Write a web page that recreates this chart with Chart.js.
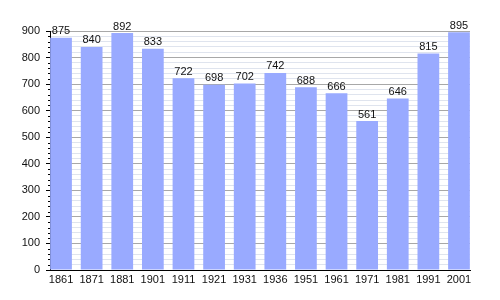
<!DOCTYPE html>
<html>
<head>
<meta charset="utf-8">
<script src="https://cdn.jsdelivr.net/npm/chart.js@4"></script>
<style>
  html, body { margin: 0; padding: 0; background: #fff; }
  #wrap { width: 500px; height: 300px; }
</style>
</head>
<body>
<div id="wrap"><canvas id="chart"></canvas></div>
<script>
// --- datos ---
const years = ['1861', '1871', '1881', '1901', '1911', '1921', '1931', '1936', '1951', '1961', '1971', '1981', '1991', '2001'];
const population = [875, 840, 892, 833, 722, 698, 702, 742, 688, 666, 561, 646, 815, 895];
const yTicks = [0, 100, 200, 300, 400, 500, 600, 700, 800, 900];

// etiquetas de valor encima de cada barra + marcas menores cortas en el eje y
const valueLabels = {
    id: 'valueLabels',
    afterDatasetsDraw(chart) {
        const ctx = chart.ctx;
        const meta = chart.getDatasetMeta(0);
        ctx.save();
        ctx.font = '11px "Liberation Sans", Arial, sans-serif';
        ctx.fillStyle = '#111';
        ctx.textAlign = 'center';
        ctx.textBaseline = 'bottom';
        meta.data.forEach((bar, i) => {
            ctx.fillText(String(population[i]), bar.x, bar.y - 1);
        });
        // marcas menores (cada 20)
        const yScale = chart.scales.y;
        const left = chart.chartArea.left;
        ctx.strokeStyle = '#000';
        ctx.lineWidth = 1;
        yScale.ticks.forEach(t => {
            if (t.value % 100 === 0) return;
            const py = Math.round(yScale.getPixelForValue(t.value)) + 0.5;
            ctx.beginPath();
            ctx.moveTo(left - 2, py);
            ctx.lineTo(left, py);
            ctx.stroke();
        });
        ctx.restore();
    }
};

// eje x lineal para que las barras lleguen a los bordes (como en el original)
const points = population.map((v, i) => ({ x: i, y: v }));

new Chart(document.getElementById('chart'), {
    type: 'bar',
    data: {
        datasets: [{
            data: points,
            backgroundColor: '#99aaff',
            borderWidth: 0,
            barPercentage: 0.71,
            categoryPercentage: 1.0
        }]
    },
    options: {
        responsive: true,
        maintainAspectRatio: false,
        animation: false,
        layout: { padding: { top: 31, right: 30, left: 0, bottom: 0 } },
        plugins: {
            legend: { display: false },
            tooltip: { enabled: false }
        },
        scales: {
            x: {
                type: 'linear',
                offset: false,
                min: -0.36,
                max: years.length - 1 + 0.36,
                grid: { display: false, drawTicks: false },
                border: { display: true, color: '#000', width: 1 },
                afterBuildTicks(scale) {
                    scale.ticks = years.map((y, i) => ({ value: i }));
                },
                ticks: {
                    color: '#111',
                    padding: 3,
                    maxRotation: 0,
                    autoSkip: false,
                    font: { family: '"Liberation Sans", Arial, sans-serif', size: 11 },
                    callback: v => years[v]
                },
                afterFit(scale) { scale.height = 30; }
            },
            y: {
                min: 0,
                max: 900,
                grid: {
                    color: ctx => (ctx.tick.value % 100 === 0 ? '#a8a8a8' : '#dfe4ee'),
                    tickColor: ctx => (ctx.tick.value % 100 === 0 ? '#000' : 'rgba(0,0,0,0)'),
                    tickLength: 4
                },
                border: { display: true, color: '#000', width: 1 },
                ticks: {
                    stepSize: 20,
                    autoSkip: false,
                    color: '#111',
                    padding: 6,
                    font: { family: '"Liberation Sans", Arial, sans-serif', size: 11 },
                    callback: v => (yTicks.includes(v) ? String(v) : '')
                },
                afterFit(scale) { scale.width = 50; }
            }
        }
    },
    plugins: [valueLabels]
});
</script>
</body>
</html>
